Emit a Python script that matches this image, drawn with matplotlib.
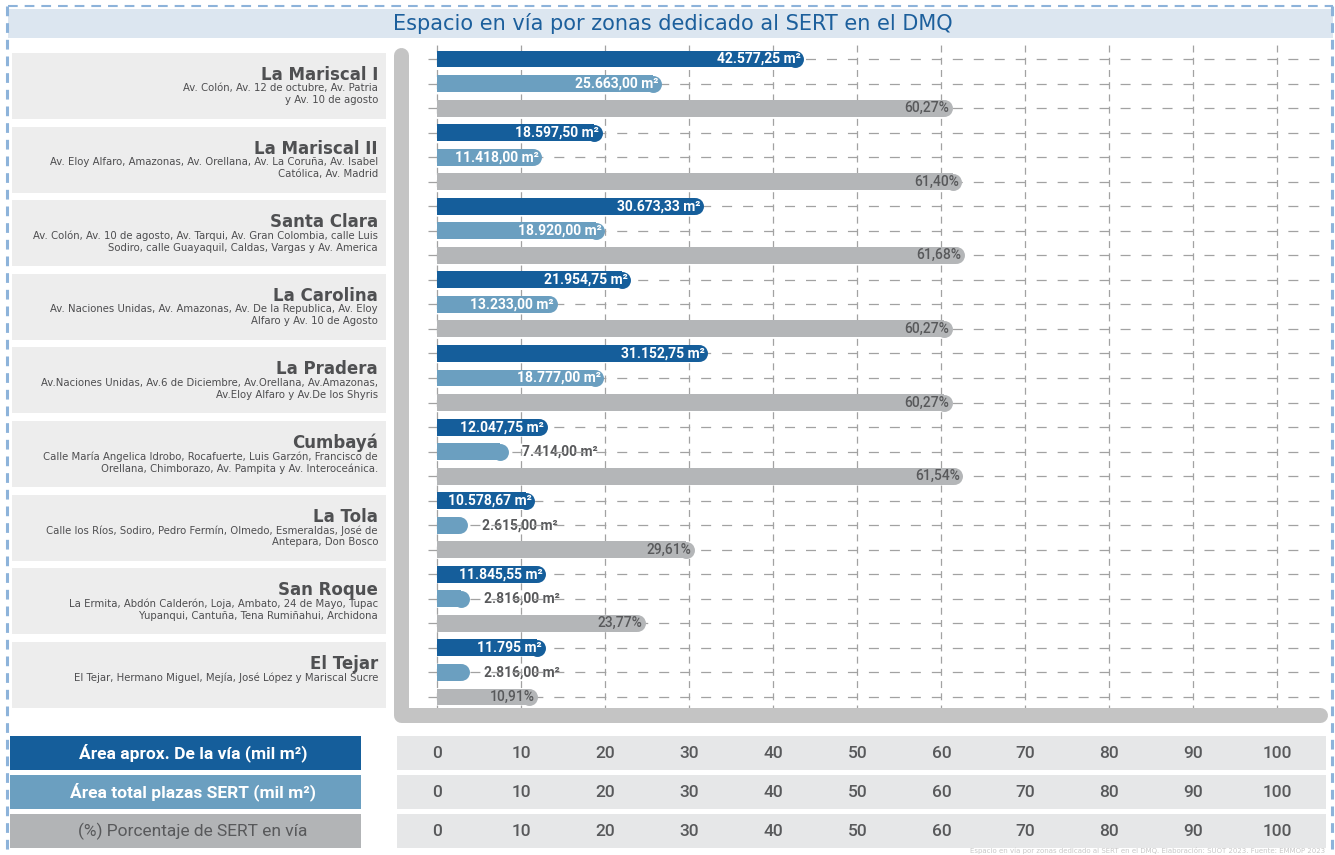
import numpy as np
import matplotlib
matplotlib.use("Agg")
import matplotlib.pyplot as plt
from matplotlib.patches import Rectangle
from matplotlib import transforms

plt.rcParams['lines.scale_dashes'] = False

# ---- data ----
zones = ["La Mariscal I", "La Mariscal II", "Santa Clara", "La Carolina", "La Pradera",
         "Cumbayá", "La Tola", "San Roque", "El Tejar"]
streets = [
    "Av. Colón, Av. 12 de octubre, Av. Patria\ny Av. 10 de agosto",
    "Av. Eloy Alfaro, Amazonas, Av. Orellana, Av. La Coruña, Av. Isabel\nCatólica, Av. Madrid",
    "Av. Colón, Av. 10 de agosto, Av. Tarqui, Av. Gran Colombia, calle Luis\nSodiro, calle Guayaquil, Caldas, Vargas y Av. America",
    "Av. Naciones Unidas, Av. Amazonas, Av. De la Republica, Av. Eloy\nAlfaro y Av. 10 de Agosto",
    "Av.Naciones Unidas, Av.6 de Diciembre, Av.Orellana, Av.Amazonas,\nAv.Eloy Alfaro y Av.De los Shyris",
    "Calle María Angelica Idrobo, Rocafuerte, Luis Garzón, Francisco de\nOrellana, Chimborazo, Av. Pampita y Av. Interoceánica.",
    "Calle los Ríos, Sodiro, Pedro Fermín, Olmedo, Esmeraldas, José de\nAntepara, Don Bosco",
    "La Ermita, Abdón Calderón, Loja, Ambato, 24 de Mayo, Tupac\nYupanqui, Cantuña, Tena Rumiñahui, Archidona",
    "El Tejar, Hermano Miguel, Mejía, José López y Mariscal Sucre",
]
via_m2 = [42577.25, 18597.50, 30673.33, 21954.75, 31152.75, 12047.75, 10578.67, 11845.55, 11795.00]
via_dec = [2, 2, 2, 2, 2, 2, 2, 2, 0]
sert_m2 = [25663.00, 11418.00, 18920.00, 13233.00, 18777.00, 7414.00, 2615.00, 2816.00, 2816.00]
pct_sert = [60.27, 61.40, 61.68, 60.27, 60.27, 61.54, 29.61, 23.77, 10.91]
scale_ticks = [0, 10, 20, 30, 40, 50, 60, 70, 80, 90, 100]
row_titles = ["Área aprox. De la vía (mil m²)", "Área total plazas SERT (mil m²)",
              "(%) Porcentaje de SERT en vía"]
footnote = "Espacio en vía por zonas dedicado al SERT en el DMQ. Elaboración: SUOT 2023. Fuente: EMMOP 2023"

C_DARK, C_MID, C_GRAY = "#155e9b", "#6b9fc0", "#b4b6b8"
C_TXT = "#58595b"
C_GRID = "#a2a2a2"


def es_num(v, dec=2):
    s = f"{v:,.{dec}f}"
    return s.replace(",", "X").replace(".", ",").replace("X", ".")


W, H = 1335, 855
fig = plt.figure(figsize=(W / 100, H / 100), dpi=100)

# background layer in pixel coords
bg = fig.add_axes([0, 0, 1, 1], label="bg", zorder=0)
bg.set_xlim(0, W)
bg.set_ylim(H, 0)
bg.axis("off")

# title band + dashed border
bg.add_patch(Rectangle((8, 9), 1325, 29, color="#dce6f0", lw=0))
bg.text(673, 23.5, "Espacio en vía por zonas dedicado al SERT en el DMQ",
        ha="center", va="center", fontsize=15, color="#1c5f9c")
bg.plot([8, 1333], [6, 6], color="#8db3da", lw=1.5, dashes=(7, 5))
bg.plot([7, 7], [6, H], color="#8db3da", lw=2.2, dashes=(7, 5))
bg.plot([1332, 1332], [6, H], color="#8db3da", lw=2.2, dashes=(7, 5))

# main bars axes
AX_L, AX_R, AX_T, AX_B = 428, 1330, 44, 712
XL = (-1.13, 106.25)
YL = (26.61, -0.61)
ax = fig.add_axes([AX_L / W, 1 - AX_B / H, (AX_R - AX_L) / W, (AX_B - AX_T) / H],
                  label="bars", zorder=1)
ax.patch.set_alpha(0)
ax.set_xlim(*XL)
ax.set_ylim(*YL)
ax.axis("off")

px_x = (AX_R - AX_L) / (XL[1] - XL[0])
px_y = (AX_B - AX_T) / (YL[0] - YL[1])
bar_h = 0.69
cap_px = bar_h * px_y / 2
cap_r = cap_px / px_x
msize = (2 * cap_px * 0.72) ** 2

n_rows = 3 * len(zones)
for t in scale_ticks:
    ax.axvline(t, color=C_GRID, lw=0.9, dashes=(5.0, 3.8), zorder=0.6)
for yy in range(n_rows):
    ax.axhline(yy, color=C_GRID, lw=0.9, dashes=(7.2, 7.9), zorder=0.6)

for g in range(len(zones)):
    series = [
        (via_m2[g] / 1000, C_DARK, es_num(via_m2[g], via_dec[g]) + " m²", "white", "bold"),
        (sert_m2[g] / 1000, C_MID, es_num(sert_m2[g]) + " m²", "white", "bold"),
        (pct_sert[g], C_GRAY, es_num(pct_sert[g]) + "%", C_TXT, "medium"),
    ]
    for k, (v, col, lab, tcol, tw) in enumerate(series):
        y = 3 * g + k
        ax.barh(y, v, height=bar_h, color=col, lw=0, zorder=2)
        ax.scatter([v], [y], s=msize, color=col, marker="o", linewidths=0, zorder=2)
        if v < 10:
            ax.text(v + cap_r + 14 / px_x, y, lab, ha="left", va="center",
                    fontsize=10, family="Roboto", fontweight="bold", color=C_TXT, zorder=0.4)
        else:
            ax.text(v + cap_r - 3 / px_x, y, lab, ha="right", va="center",
                    fontsize=10, family="Roboto", fontweight=tw, color=tcol, zorder=3)

# zone label boxes
for g in range(len(zones)):
    top = 59 + 24.54 * 3 * g - 6
    bg.add_patch(Rectangle((12, top), 374, 66, color="#ededed", lw=0))
    bg.text(378, top + 22, zones[g], ha="right", va="center", fontsize=12,
            fontweight="bold", color="#4f5052")
    bg.text(378, top + 30.5, streets[g], ha="right", va="top", fontsize=7.3,
            color="#4d4d4f", linespacing=1.2)

# L-shaped frame on top
fg = fig.add_axes([0, 0, 1, 1], label="fg", zorder=3)
fg.set_xlim(0, W)
fg.set_ylim(H, 0)
fg.axis("off")
fg.patch.set_alpha(0)
fg.plot([401, 401, 1320], [55, 715, 715], color="#c4c4c4", lw=15 * 0.72,
        solid_capstyle="round", solid_joinstyle="round")

# scale table
trans = transforms.blended_transform_factory(ax.transData, bg.transData)
row_cols = [C_DARK, C_MID, "#b2b4b6"]
row_tcols = ["white", "white", C_TXT]
row_w = ["bold", "bold", "normal"]
for r, top in enumerate([736, 775, 814]):
    bg.add_patch(Rectangle((10, top), 351, 34, color=row_cols[r], lw=0))
    bg.add_patch(Rectangle((397, top), 929, 34, color="#e6e7e8", lw=0))
    bg.text(193, top + 17, row_titles[r], ha="center", va="center", fontsize=12.5,
            family="Roboto", fontweight=row_w[r], color=row_tcols[r])
    for t in scale_ticks:
        bg.text(t, top + 17.5, str(t), transform=trans, ha="center", va="center",
                fontsize=12.5, family="Roboto", fontweight="medium", color=C_TXT)

bg.text(1325, 854, footnote, ha="right", va="bottom", fontsize=5, color="#c8c8c8")

fig.savefig("out.png", dpi=100)
